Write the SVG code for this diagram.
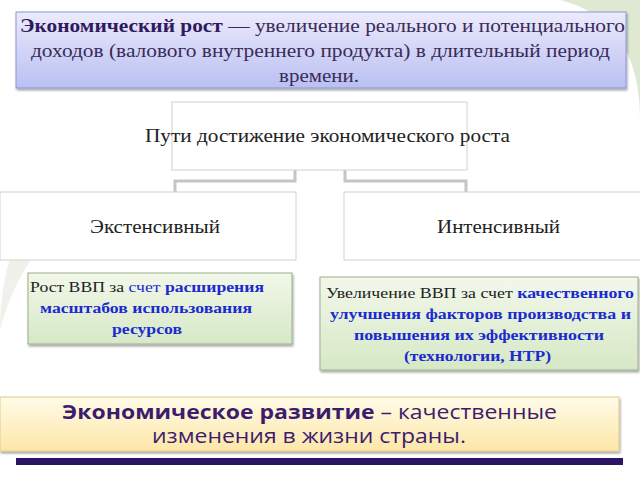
<svg xmlns="http://www.w3.org/2000/svg" width="640" height="480" viewBox="0 0 640 480">
<defs>
<linearGradient id="gB" x1="0" y1="0" x2="0" y2="1"><stop offset="0" stop-color="#eceafc"/><stop offset="1" stop-color="#b9c0f2"/></linearGradient>
<linearGradient id="gG" x1="0" y1="0" x2="0" y2="1"><stop offset="0" stop-color="#f2f8ea"/><stop offset="1" stop-color="#d6e8c6"/></linearGradient>
<linearGradient id="gY" x1="0" y1="0" x2="0" y2="1"><stop offset="0" stop-color="#fffbe8"/><stop offset="1" stop-color="#fde7a8"/></linearGradient>
<filter id="sh" x="-5%" y="-10%" width="110%" height="130%"><feDropShadow dx="1" dy="2" stdDeviation="1.2" flood-color="#000" flood-opacity="0.35"/></filter>
</defs>
<style>
.s{font-family:"Liberation Serif",serif;fill:#222}
.w{fill:#fff;stroke:#d6d0d0;stroke-width:1}
.b{fill:#1a2bd0;font-weight:bold}
.c{stroke:#c8c4c4;stroke-width:3;fill:none}
.p{fill:#3a2b58}
</style>
<rect width="640" height="480" fill="#fff"/>
<path d="M560 0 Q640 20 640 120 L640 0 Z" fill="#dfe8d3"/>
<path d="M0 330 Q20 250 90 200 L40 200 Q0 250 0 330 Z" fill="#eef2ea"/>
<g id="connectors">
<path class="c" d="M295 170 V181 H175 V193"/>
<path class="c" d="M345 170 V181 H466 V193"/>
</g>
<g id="top">
<rect x="16" y="12" width="610" height="76" fill="url(#gB)" stroke="#8b98d6" filter="url(#sh)"/>
<text class="s" font-size="18" lengthAdjust="spacingAndGlyphs" x="20" y="32" textLength="605"><tspan font-weight="bold" fill="#2e1a5c">Экономический рост</tspan><tspan class="p"> — увеличение реального и потенциального</tspan></text>
<text class="s p" font-size="18" lengthAdjust="spacingAndGlyphs" x="31" y="57" textLength="579">доходов (валового внутреннего продукта) в длительный период</text>
<text class="s p" font-size="18" lengthAdjust="spacingAndGlyphs" x="279" y="82" textLength="80">времени.</text>
</g>
<g id="paths"><rect class="w" x="172" y="102" width="295" height="68"/><text class="s" x="145" y="142" font-size="19" textLength="365" lengthAdjust="spacingAndGlyphs">Пути достижение экономического роста</text></g>
<g id="ext"><rect class="w" x="0" y="192" width="296" height="68"/><text class="s" x="90" y="233" font-size="19" textLength="130" lengthAdjust="spacingAndGlyphs">Экстенсивный</text></g>
<g id="int"><rect class="w" x="344" y="192" width="300" height="68"/><text class="s" x="437" y="233" font-size="19" textLength="123" lengthAdjust="spacingAndGlyphs">Интенсивный</text></g>
<g id="extd"><rect x="28" y="273" width="264" height="71" fill="url(#gG)" stroke="#9db08a" filter="url(#sh)"/>
<text class="s" font-size="14" x="30" y="292" textLength="234" lengthAdjust="spacingAndGlyphs">Рост ВВП за <tspan fill="#1a2bd0">счет</tspan> <tspan class="b">расширения</tspan></text>
<text class="s b" font-size="14" x="40" y="313" textLength="212" lengthAdjust="spacingAndGlyphs">масштабов использования</text>
<text class="s b" font-size="14" x="112" y="334" textLength="70" lengthAdjust="spacingAndGlyphs">ресурсов</text></g>
<g id="intd"><rect x="320" y="277" width="318" height="93" fill="url(#gG)" stroke="#9db08a" filter="url(#sh)"/>
<text class="s" font-size="14" x="326" y="298" textLength="308" lengthAdjust="spacingAndGlyphs">Увеличение ВВП за счет <tspan class="b">качественного</tspan></text>
<text class="s b" font-size="14" x="330" y="319" textLength="301" lengthAdjust="spacingAndGlyphs">улучшения факторов производства и</text>
<text class="s b" font-size="14" x="354" y="340" textLength="250" lengthAdjust="spacingAndGlyphs">повышения их эффективности</text>
<text class="s b" font-size="14" x="404" y="361" textLength="147" lengthAdjust="spacingAndGlyphs">(технологии, НТР)</text></g>
<g id="dev"><rect x="0" y="397" width="619" height="54" fill="url(#gY)" stroke="#e0c98a" filter="url(#sh)"/>
<text font-family="Open Sans, sans-serif" font-size="20" fill="#3c1c6e" x="62" y="419" textLength="495" lengthAdjust="spacingAndGlyphs"><tspan font-weight="bold">Экономическое развитие</tspan> – качественные</text>
<text font-family="Open Sans, sans-serif" font-size="20" fill="#3c1c6e" x="152" y="443" textLength="314" lengthAdjust="spacingAndGlyphs">изменения в жизни страны.</text></g>
<rect x="16" y="458" width="607" height="7" fill="#2d1566"/>
</svg>
